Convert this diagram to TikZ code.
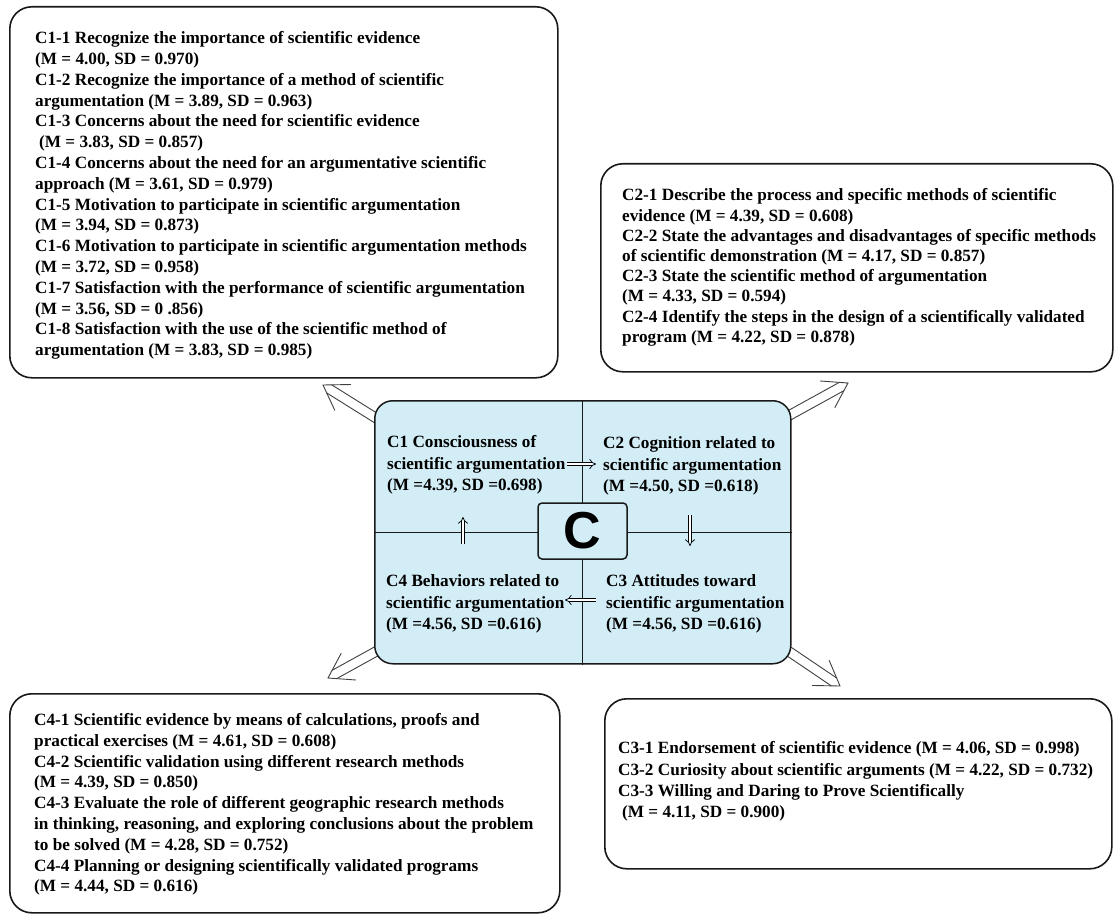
\documentclass[tikz,border=0pt]{standalone}
\usepackage{fontspec}
\setmainfont{Liberation Serif}
\newfontfamily\csans{Liberation Sans}
\usetikzlibrary{calc,arrows.meta}
\definecolor{cblue}{RGB}{210,237,246}
\tikzset{
  bigbox/.style={draw=black!90, line width=1.6pt, rounded corners=22pt, anchor=north west, inner sep=0pt},
  itemtext/.style={anchor=west, align=left, inner sep=0pt, font=\fontsize{17.2}{20.8}\selectfont\bfseries},
  ctext/.style={anchor=west, align=left, inner sep=0pt, font=\fontsize{17.2}{21.5}\selectfont\bfseries},
  harrow/.style={line width=0.9pt, draw=black!75},
  dblarrow/.style={double, double distance=2.8pt, line width=0.7pt, -{Implies[scale=1.3]}},
  divider/.style={line width=1.2pt, draw=black!90},
}
\newcommand\hollowarrow[2]{%
  \coordinate (ha-e) at ($(#2)!7.3pt!(#1)$);
  \draw[harrow] ($(#1)!4.75pt!90:(#2)$) -- ($(ha-e)!4.75pt!-90:(#1)$);
  \draw[harrow] ($(#1)!4.75pt!-90:(#2)$) -- ($(ha-e)!4.75pt!90:(#1)$);
  \draw[harrow] ($(#2)!28pt!33:(#1)$) -- (#2) -- ($(#2)!28pt!-33:(#1)$);
}
\begin{document}
\begin{tikzpicture}[x=1pt,y=-1pt]
\useasboundingbox[fill=white] (0,0) rectangle (1117,915);

% outer boxes
\node[bigbox, minimum width=548pt, minimum height=371pt] (b1) at (9,6) {};
\node[bigbox, minimum width=512pt, minimum height=208pt] (b2) at (600,163) {};
\node[bigbox, minimum width=550pt, minimum height=219pt] (b4) at (9,693) {};
\node[bigbox, minimum width=507pt, minimum height=170pt] (b3) at (604,698) {};

\node[itemtext] (t1) at (35,195.5) {C1-1 Recognize the importance of scientific evidence\\
(M = 4.00, SD = 0.970)\\
C1-2 Recognize the importance of a method of scientific\\
argumentation (M = 3.89, SD = 0.963)\\
C1-3 Concerns about the need for scientific evidence\\
\hspace*{4pt}(M = 3.83, SD = 0.857)\\
C1-4 Concerns about the need for an argumentative scientific\\
approach (M = 3.61, SD = 0.979)\\
C1-5 Motivation to participate in scientific argumentation\\
(M = 3.94, SD = 0.873)\\
C1-6 Motivation to participate in scientific argumentation methods\\
(M = 3.72, SD = 0.958)\\
C1-7 Satisfaction with the performance of scientific argumentation\\
(M = 3.56, SD = 0 .856)\\
C1-8 Satisfaction with the use of the scientific method of\\
argumentation (M = 3.83, SD = 0.985)};

\node[itemtext, font=\fontsize{17.2}{20.2}\selectfont\bfseries] (t2) at (622,267.5) {C2-1 Describe the process and specific methods of scientific\\
evidence (M = 4.39, SD = 0.608)\\
C2-2 State the advantages and disadvantages of specific methods\\
of scientific demonstration (M = 4.17, SD = 0.857)\\
C2-3 State the scientific method of argumentation\\
(M = 4.33, SD = 0.594)\\
C2-4 Identify the steps in the design of a scientifically validated\\
program (M = 4.22, SD = 0.878)};

\node[itemtext] (t4) at (34,804.5) {C4-1 Scientific evidence by means of calculations, proofs and\\
practical exercises (M = 4.61, SD = 0.608)\\
C4-2 Scientific validation using different research methods\\
(M = 4.39, SD = 0.850)\\
C4-3 Evaluate the role of different geographic research methods\\
in thinking, reasoning, and exploring conclusions about the problem\\
to be solved (M = 4.28, SD = 0.752)\\
C4-4 Planning or designing scientifically validated programs\\
(M = 4.44, SD = 0.616)};

\node[itemtext, font=\fontsize{17.2}{21.3}\selectfont\bfseries] (t3) at (618,781.5) {C3-1 Endorsement of scientific evidence (M = 4.06, SD = 0.998)\\
C3-2 Curiosity about scientific arguments (M = 4.22, SD = 0.732)\\
C3-3 Willing and Daring to Prove Scientifically\\
\hspace*{4pt}(M = 4.11, SD = 0.900)};

% hollow arrows from the central box
\coordinate (tl-s) at (395,430); \coordinate (tl-t) at (323,385);
\coordinate (tr-s) at (770,426); \coordinate (tr-t) at (848,383);
\coordinate (bl-s) at (395,641); \coordinate (bl-t) at (328,678);
\coordinate (br-s) at (772,640); \coordinate (br-t) at (840,686);
\hollowarrow{tl-s}{tl-t}
\hollowarrow{tr-s}{tr-t}
\hollowarrow{bl-s}{bl-t}
\hollowarrow{br-s}{br-t}

% central box
\node[draw=black!90, line width=1.5pt, rounded corners=18pt, fill=cblue, minimum width=416pt, minimum height=263pt, inner sep=0pt, anchor=north west] (cb) at (374,400) {};
\draw[divider] (cb.north) -- (cb.south);
\draw[divider] (cb.west) -- (cb.east);
\node[draw=black!90, line width=1.5pt, rounded corners=4pt, fill=cblue, minimum width=89pt, minimum height=56pt, inner sep=0pt, font=\csans\bfseries\fontsize{52}{52}\selectfont] (cc) at (582.5,531) {C};

\node[ctext] (q1) at (387,465) {C1 Consciousness of\\scientific argumentation\\(M =4.39, SD =0.698)};
\node[ctext] (q2) at (603,466) {C2 Cognition related to\\scientific argumentation\\(M =4.50, SD =0.618)};
\node[ctext] (q4) at (386,604) {C4 Behaviors related to\\scientific argumentation\\(M =4.56, SD =0.616)};
\node[ctext] (q3) at (606,604) {C3 Attitudes toward\\scientific argumentation\\(M =4.56, SD =0.616)};

% small double arrows
\coordinate (a12s) at (567,464); \coordinate (a12e) at (596,464);
\coordinate (a23s) at (690,515); \coordinate (a23e) at (690,546);
\coordinate (a34s) at (596,600); \coordinate (a34e) at (565,600);
\coordinate (a41s) at (463,544); \coordinate (a41e) at (463,517);
\draw[dblarrow] (a12s) -- (a12e);
\draw[dblarrow] (a23s) -- (a23e);
\draw[dblarrow] (a34s) -- (a34e);
\draw[dblarrow] (a41s) -- (a41e);
\end{tikzpicture}
\end{document}
